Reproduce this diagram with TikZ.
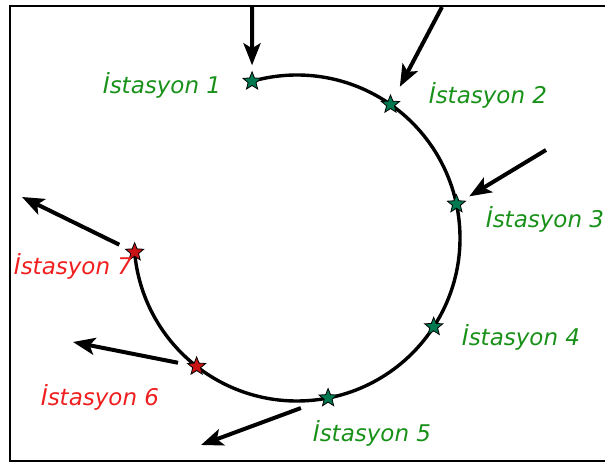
\documentclass[tikz,border=0pt]{standalone}
\usepackage{fontspec}
\setmainfont{DejaVu Sans}
\usetikzlibrary{shapes.geometric,arrows.meta}

\definecolor{stagreen}{RGB}{25,145,25}
\definecolor{stared}{RGB}{240,30,30}
\definecolor{stargreen}{RGB}{0,120,80}
\definecolor{starred}{RGB}{200,20,20}

\begin{document}
\begin{tikzpicture} [x=1pt,y=1pt,
  station/.style={star,star points=5,star point ratio=2.3,minimum size=19pt,inner sep=0pt,draw=black,line width=0.8pt},
  flow/.style={-{Stealth[length=22pt,width=17pt,inset=5pt]},line width=4pt},
  ring/.style={line width=3.4pt},
  stalabel/.style={font=\fontsize{23}{27}\selectfont\itshape,inner sep=0pt}]

\useasboundingbox (0,0) rectangle (605,465);
\draw[line width=2.2pt] (606,459) -- (10,459) -- (10,4) -- (606,4);

% the line
\coordinate (ctr) at (297,227);
\draw[ring] ([shift={(185:163)}]ctr) arc[start angle=185,end angle=466,radius=163];

% stations
\foreach \ang/\nm/\col in {106/st1/stargreen,55/st2/stargreen,12/st3/stargreen,-33/st4/stargreen,-79/st5/stargreen,232/st6/starred,185/st7/starred}
  \node[station,fill=\col] (\nm) at ([shift={(\ang:163)}]ctr) {};

\node[stalabel,text=stagreen] (lab1) at (162,380) {İstasyon 1};
\node[stalabel,text=stagreen] (lab2) at (488,370) {İstasyon 2};
\node[stalabel,text=stagreen] (lab3) at (545,246) {İstasyon 3};
\node[stalabel,text=stagreen] (lab4) at (521,128) {İstasyon 4};
\node[stalabel,text=stagreen] (lab5) at (372,32) {İstasyon 5};
\node[stalabel,text=stared] (lab6) at (100,68) {İstasyon 6};
\node[stalabel,text=stared] (lab7) at (73,199) {İstasyon 7};

% incoming and outgoing
\coordinate (in1) at (252,458);
\coordinate (in2) at (442,458);
\coordinate (in3) at (546,315);
\coordinate (out5) at (201,20);
\coordinate (out6) at (73,123);
\coordinate (out7) at (22,268);

\draw[flow,shorten >=16pt](in1)--(st1.center);
\draw[flow,shorten >=20pt](in2)--(st2.center);
\draw[flow,shorten >=15pt](in3)--(st3.center);
\draw[flow,shorten <=29pt](st5.center)--(out5);
\draw[flow,shorten <=19pt](st6.center)--(out6);
\draw[flow,shorten <=17pt](st7.center)--(out7);
\end{tikzpicture}
\end{document}
